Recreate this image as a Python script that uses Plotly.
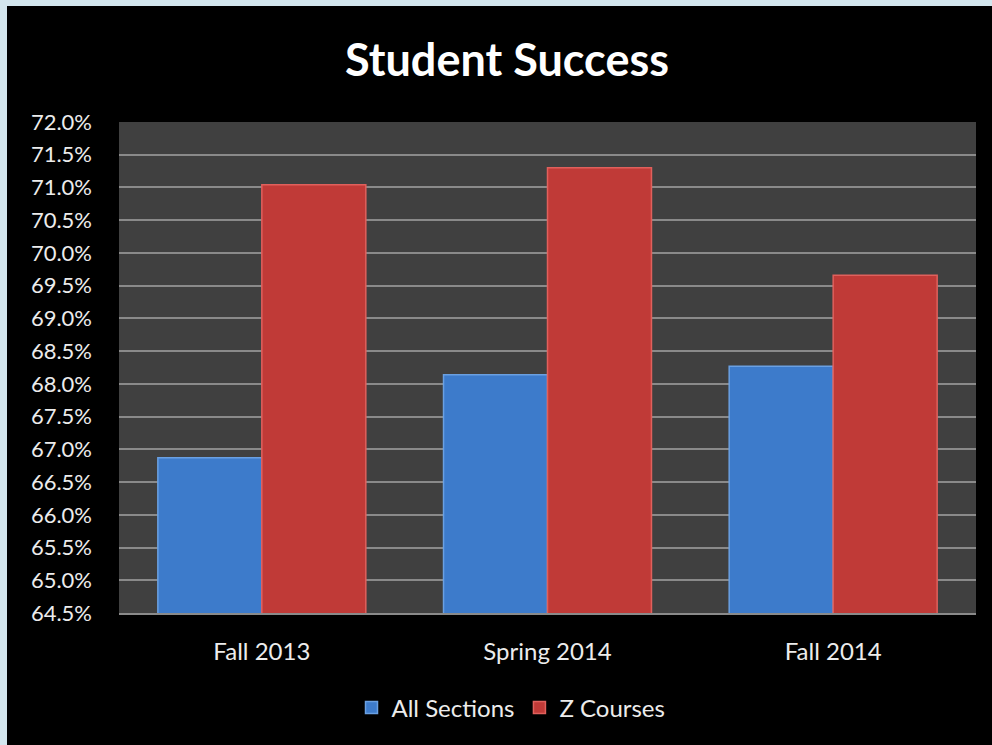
import plotly.graph_objects as go

categories = ["Fall 2013", "Spring 2014", "Fall 2014"]
all_sections = [66.87, 68.14, 68.27]
z_courses = [71.04, 71.30, 69.66]
tick_vals = [64.5 + 0.5 * i for i in range(16)]
tick_text = [f"{v:.1f}%" for v in tick_vals]

W, H = 992, 745
L, R, T, B = 119, 16, 122, 132
pw, ph = W - L - R, H - T - B

font_family = "Lato, 'Open Sans', sans-serif"
txt = "#ececec"

fig = go.Figure()
fig.add_trace(go.Bar(x=categories, y=all_sections, name="All Sections",
                     marker=dict(color="#3d7bcb", line=dict(color="#6aa0e2", width=1.5))))
fig.add_trace(go.Bar(x=categories, y=z_courses, name="Z Courses",
                     marker=dict(color="#c03a37", line=dict(color="#e0605c", width=1.5))))

def px_x(p):
    return (p - L) / pw
def px_y(p):
    return 1 - (p - T) / ph

# light-blue slide strip on left and top
fig.add_shape(type="rect", xref="paper", yref="paper",
              x0=px_x(0), x1=px_x(7), y0=px_y(H), y1=px_y(0),
              fillcolor="#d3e6ee", line=dict(width=0))
fig.add_shape(type="rect", xref="paper", yref="paper",
              x0=px_x(0), x1=px_x(W), y0=px_y(6), y1=px_y(0),
              fillcolor="#d3e6ee", line=dict(width=0))

fig.update_layout(
    width=W, height=H,
    margin=dict(l=L, r=R, t=T, b=B, autoexpand=False),
    paper_bgcolor="#000000",
    plot_bgcolor="#404040",
    barmode="group",
    bargap=0.272,
    bargroupgap=0,
    title=dict(text="<b>Student Success</b>", x=(507) / W, xref="container",
               xanchor="center",
               y=1 - 60 / H, yanchor="middle",
               font=dict(family=font_family, size=45, color="#ffffff")),
    font=dict(family=font_family, color=txt, size=22),
    legend=dict(orientation="h", x=px_x(511), xanchor="center",
                y=px_y(708), yanchor="middle",
                font=dict(size=24, color=txt), bgcolor="rgba(0,0,0,0)",
                traceorder="normal", itemwidth=30),
    showlegend=True,
)
fig.update_yaxes(range=[64.5, 72.0], tickvals=tick_vals, ticktext=tick_text,
                 showgrid=True, gridcolor="#8a8a8a", gridwidth=1.5,
                 zeroline=False, ticks="", ticklabelstandoff=26,
                 tickfont=dict(size=22, color=txt), showline=False)
fig.update_xaxes(showgrid=False, ticks="", tickfont=dict(size=24, color=txt),
                 ticklabelstandoff=16, showline=True, linecolor="#8a8a8a", linewidth=1.5)

fig.write_html("out.html", config={"displayModeBar": False},
               post_script="document.body.style.margin='0';")
